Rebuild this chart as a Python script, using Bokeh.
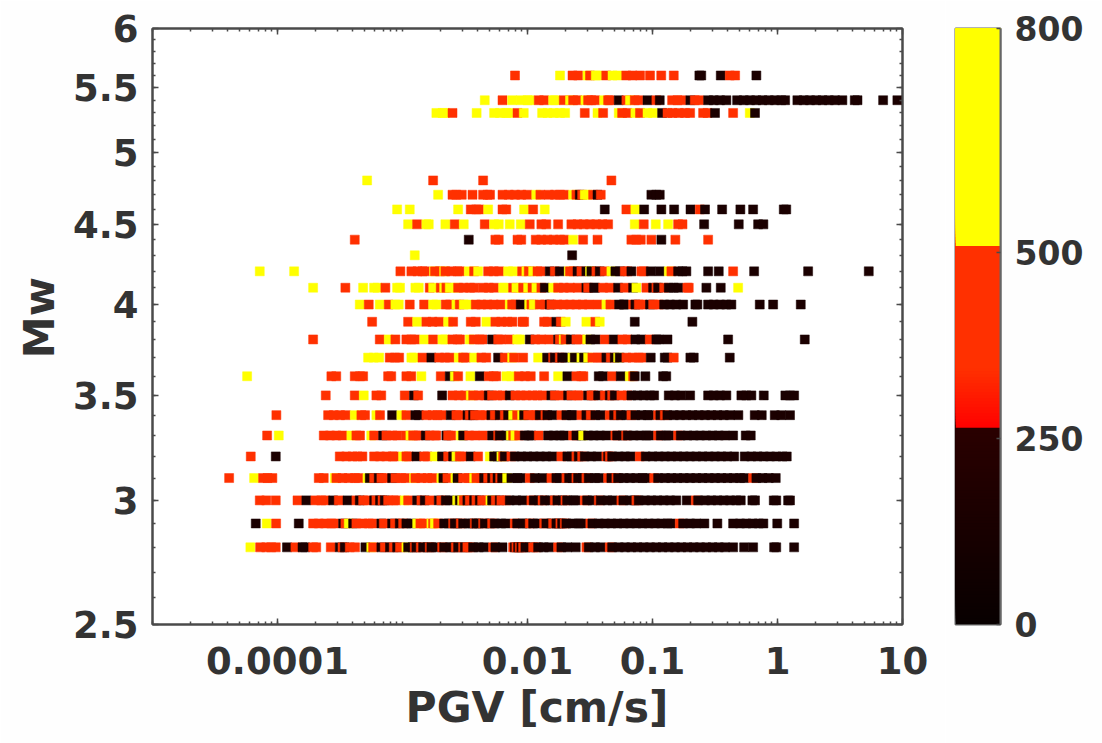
from bokeh.embed import file_html
from bokeh.resources import INLINE
from bokeh.plotting import figure
from bokeh.layouts import row
from bokeh.models import (ColumnDataSource, FixedTicker, LogAxis, LinearColorMapper,
                          CustomJSTickFormatter, Range1d, Title)
from bokeh.transform import transform

# Vs30 class of the points that follow in each row list
K, R, Y = 150, 400, 650

# One list per magnitude row: a class marker, then log10(PGV [cm/s]) of the points
Mw_2_8 = [Y,-4.217,R,-4.139,-4.09,-4.05,-4.014,K,-3.924,R,-3.857,K,-3.80,-3.78,R,-3.715,-3.69,R,-3.574,K,-3.502,R,-3.48,K,-3.462,R,-3.422,-3.38,K,-3.297,Y,-3.25,R,-3.235,K,-3.169,R,-3.142,K,-3.10,R,-3.07,K,-3.043,R,-3.02,Y,-2.969,K,-2.955,-2.92,R,-2.902,K,-2.889,R,-2.854,K,-2.835,-2.80,R,-2.782,K,-2.769,-2.73,R,-2.683,K,-2.667,-2.62,-2.59,R,-2.574,K,-2.555,R,-2.515,K,-2.502,R,-2.481,-2.46,K,-2.435,-2.39,-2.347,R,-2.275,K,-2.257,-2.2,R,-2.115,K,-2.102,R,-2.089,K,-2.075,R,-2.062,K,-2.049,R,-2.035,K,-2.017,-1.98,R,-1.955,-1.93,K,-1.915,-1.87,-1.827,R,-1.755,K,-1.729,-1.68,-1.614,R,-1.529,K,-1.51,-1.46,-1.414,R,-1.342,K,-1.323,-1.27,-1.22,-1.17,-1.12,-1.07,-1.02,-.97,-.92,-.87,-.82,-.77,-.72,-.67,-.62,-.57,-.52,-.47,-.42,-.355,K,-.267,-.195,K,-.027,-.01,K,.133]
Mw_2_9 = [K,-4.174,Y,-4.086,R,-4.011,K,-3.83,R,-3.715,-3.67,-3.62,-3.57,-3.547,K,-3.475,R,-3.457,Y,-3.43,K,-3.395,R,-3.369,-3.32,-3.27,-3.241,K,-3.169,R,-3.15,K,-3.083,R,-3.06,K,-3.022,R,-2.995,K,-2.969,-2.93,Y,-2.883,R,-2.857,-2.83,Y,-2.769,R,-2.755,Y,-2.742,R,-2.715,K,-2.667,-2.63,R,-2.595,K,-2.582,-2.56,R,-2.534,K,-2.515,-2.47,-2.44,R,-2.422,K,-2.409,-2.39,R,-2.355,K,-2.342,-2.30,R,-2.283,K,-2.262,-2.21,-2.174,R,-2.102,K,-2.083,-2.04,-2.01,R,-1.982,K,-1.955,-1.92,R,-1.867,K,-1.849,-1.81,R,-1.795,K,-1.769,-1.75,R,-1.737,K,-1.723,R,-1.702,K,-1.689,-1.64,-1.59,-1.569,R,-1.497,K,-1.481,-1.43,-1.38,-1.33,-1.28,-1.23,-1.18,-1.13,-1.08,-1.03,-.98,-.93,-.88,-.854,R,-.782,K,-.755,-.70,-.65,-.585,K,-.481,K,-.355,-.30,-.25,-.20,-.15,-.113,K,-.002,K,.133]
Mw_3_0 = [R,-4.142,-4.09,-4.014,R,-3.84,K,-3.769,R,-3.697,-3.65,-3.62,K,-3.555,R,-3.51,K,-3.44,R,-3.369,K,-3.342,R,-3.315,-3.28,K,-3.227,R,-3.209,K,-3.18,R,-3.16,K,-3.142,R,-3.115,-3.07,-3.05,Y,-2.982,R,-2.955,K,-2.883,R,-2.849,K,-2.822,R,-2.782,K,-2.71,R,-2.69,K,-2.654,-2.62,Y,-2.563,K,-2.542,Y,-2.523,R,-2.51,-2.49,K,-2.481,R,-2.462,K,-2.427,R,-2.409,K,-2.382,R,-2.363,-2.33,Y,-2.297,K,-2.283,R,-2.254,K,-2.222,R,-2.209,-2.17,K,-2.142,-2.09,-2.04,R,-1.969,K,-1.95,-1.91,R,-1.88,K,-1.862,-1.82,R,-1.782,K,-1.761,-1.72,R,-1.697,K,-1.683,-1.63,-1.614,R,-1.542,K,-1.523,-1.48,R,-1.43,K,-1.414,-1.36,-1.32,R,-1.249,K,-1.233,-1.18,-1.14,R,-1.129,K,-1.11,-1.06,-1.01,-.96,-.91,-.86,-.81,-.726,R,-.654,K,-.635,-.58,-.53,-.48,-.43,-.38,-.33,-.294,K,-.201,-.18,K,-.03,-.01,K,.085,.10]
Mw_3_1 = [R,-4.387,Y,-4.187,R,-4.115,-4.08,-4.041,R,-3.67,-3.63,Y,-3.542,R,-3.529,-3.48,-3.43,-3.38,-3.353,Y,-3.28,K,-3.262,R,-3.227,K,-3.19,R,-3.169,-3.14,K,-3.083,R,-3.057,-3.01,-2.979,Y,-2.907,R,-2.897,-2.85,-2.80,-2.761,Y,-2.689,K,-2.673,R,-2.641,Y,-2.577,K,-2.56,R,-2.515,-2.47,-2.44,Y,-2.427,R,-2.409,-2.37,K,-2.347,R,-2.315,K,-2.283,R,-2.262,K,-2.24,R,-2.219,K,-2.203,Y,-2.163,K,-2.129,-2.08,-2.054,R,-1.982,K,-1.942,-1.88,R,-1.809,K,-1.769,-1.74,R,-1.689,K,-1.667,-1.64,R,-1.609,K,-1.595,-1.56,R,-1.529,K,-1.51,-1.46,-1.427,R,-1.355,K,-1.329,R,-1.289,K,-1.275,-1.23,-1.18,-1.13,-1.08,-1.054,R,-.987,K,-.955,-.90,-.85,-.80,-.75,-.70,-.65,-.60,-.55,-.50,-.45,-.40,-.35,-.30,-.267,R,-.195,K,-.169,-.12,-.07,-.014]
Mw_3_2 = [R,-4.214,K,-4.014,R,-3.502,-3.45,-3.40,-3.36,-3.321,R,-3.227,-3.18,-3.13,-3.08,-3.067,Y,-2.995,R,-2.969,-2.95,K,-2.889,R,-2.827,-2.80,Y,-2.742,K,-2.684,R,-2.635,K,-2.595,Y,-2.569,R,-2.542,-2.52,K,-2.454,R,-2.395,Y,-2.302,K,-2.267,-2.24,Y,-2.209,R,-2.195,K,-2.182,R,-2.129,K,-2.102,-2.05,-2.0,-1.95,-1.90,-1.85,-1.801,R,-1.729,K,-1.681,-1.65,R,-1.609,K,-1.59,R,-1.563,K,-1.542,-1.49,-1.441,R,-1.369,K,-1.355,R,-1.342,K,-1.323,-1.27,-1.22,-1.174,R,-1.102,K,-1.054,-1.0,-.95,-.90,-.85,-.80,-.75,-.70,-.65,-.60,-.55,-.50,-.45,-.40,-.347,K,-.262,-.21,-.16,-.11,-.06,-.01,.04,.074]
Mw_3_3 = [R,-4.083,Y,-3.99,R,-3.63,-3.58,-3.53,-3.481,Y,-3.409,R,-3.369,-3.34,Y,-3.25,R,-3.227,K,-3.155,R,-3.129,-3.08,-3.041,R,-2.969,Y,-2.937,R,-2.915,R,-2.894,-2.87,K,-2.814,R,-2.782,-2.74,-2.73,K,-2.649,R,-2.635,-2.61,Y,-2.534,K,-2.515,R,-2.467,-2.42,-2.355,K,-2.283,R,-2.235,K,-2.222,-2.17,Y,-2.134,R,-2.115,Y,-2.097,R,-2.067,K,-2.022,K,-1.99,-1.97,R,-1.91,K,-1.835,-1.79,-1.74,-1.707,R,-1.635,K,-1.609,-1.57,Y,-1.555,K,-1.515,-1.47,-1.42,-1.369,R,-1.297,K,-1.283,-1.24,R,-1.211,K,-1.198,-1.15,-1.10,-1.05,-1.027,R,-.955,K,-.934,-.89,-.867,R,-.795,K,-.774,-.72,-.67,-.62,-.57,-.52,-.47,-.42,-.355,K,-.254,-.214]
Mw_3_4 = [R,-4.009,R,-3.595,-3.55,-3.50,-3.454,Y,-3.382,R,-3.329,-3.30,Y,-3.209,R,-3.18,K,-3.083,Y,-3.009,R,-2.969,K,-2.897,-2.87,R,-2.809,-2.76,-2.72,-2.686,K,-2.614,R,-2.569,-2.55,K,-2.48,R,-2.462,K,-2.435,R,-2.42,-2.38,-2.34,K,-2.289,R,-2.262,K,-2.222,R,-2.182,K,-2.155,Y,-2.115,R,-2.083,Y,-2.043,K,-2.027,R,-1.995,-1.95,-1.93,K,-1.902,R,-1.857,K,-1.841,-1.801,R,-1.729,K,-1.689,-1.65,-1.641,R,-1.569,K,-1.529,R,-1.494,K,-1.457,-1.414,R,-1.342,K,-1.307,R,-1.275,K,-1.254,-1.21,R,-1.169,K,-1.137,-1.09,-1.04,-1.027,R,-.955,K,-.937,R,-.902,K,-.881,-.83,-.78,-.73,-.68,-.63,-.58,-.53,-.48,-.43,-.38,-.313,K,-.182,-.126,K,-.022,.03,.10]
Mw_3_5 = [R,-3.614,R,-3.382,Y,-3.31,R,-3.209,-3.17,R,-2.982,K,-2.908,R,-2.875,K,-2.683,R,-2.60,-2.55,-2.50,Y,-2.454,R,-2.435,-2.39,-2.34,K,-2.31,R,-2.284,-2.24,-2.20,K,-2.142,R,-2.097,R,-2.054,-2.01,-1.96,-1.92,-1.88,K,-1.809,R,-1.782,-1.74,K,-1.675,R,-1.649,-1.60,-1.587,K,-1.515,R,-1.489,-1.47,K,-1.435,R,-1.382,K,-1.342,R,-1.323,K,-1.302,R,-1.249,-1.20,K,-1.169,-1.12,-1.07,-1.02,-.987,K,-.87,-.82,-.77,-.699,K,-.555,-.51,-.46,-.409,K,-.289,-.25,-.209,K,-.11,K,.063,.10,.133]
Mw_3_6 = [Y,-4.243,R,-3.569,-3.53,R,-3.382,-3.34,-3.315,R,-3.115,-3.09,R,-2.969,-2.93,Y,-2.849,R,-2.694,K,-2.622,Y,-2.582,R,-2.555,Y,-2.457,K,-2.382,R,-2.31,-2.27,-2.25,Y,-2.169,-2.13,R,-2.07,-2.02,-1.974,R,-1.867,Y,-1.755,K,-1.681,R,-1.609,-1.57,-1.553,K,-1.43,-1.395,R,-1.323,K,-1.254,Y,-1.182,R,-1.155,K,-1.142,K,-1.057,K,-.915,-.89]
Mw_3_7 = [Y,-3.275,-3.23,-3.187,R,-3.102,-3.06,-3.027,Y,-2.929,-2.91,R,-2.84,K,-2.769,R,-2.707,-2.66,-2.622,Y,-2.55,R,-2.515,-2.494,Y,-2.427,R,-2.369,-2.33,K,-2.235,R,-2.182,Y,-2.123,R,-2.107,R,-2.035,Y,-1.915,K,-1.843,R,-1.795,K,-1.782,R,-1.742,K,-1.723,-1.70,Y,-1.641,K,-1.622,Y,-1.569,K,-1.547,Y,-1.515,R,-1.481,R,-1.44,-1.41,K,-1.369,R,-1.334,K,-1.302,Y,-1.275,K,-1.262,R,-1.209,-1.16,-1.11,-1.086,K,-1.014,K,-.902,-.88,R,-.83,K,-.697,-.67,K,-.382]
Mw_3_8 = [R,-3.715,R,-3.182,Y,-3.11,R,-3.057,R,-2.969,-2.93,-2.899,Y,-2.827,R,-2.755,Y,-2.68,-2.66,R,-2.601,-2.56,-2.54,Y,-2.462,R,-2.43,R,-2.382,-2.36,K,-2.283,R,-2.235,-2.21,R,-2.142,Y,-2.083,-2.06,K,-1.982,R,-1.937,-1.89,-1.827,K,-1.755,R,-1.742,Y,-1.71,R,-1.697,K,-1.654,R,-1.609,-1.58,Y,-1.523,K,-1.497,-1.454,R,-1.382,K,-1.31,R,-1.241,-1.20,K,-1.137,-1.09,R,-1.022,K,-.969,-.95,K,-.88,K,-.395,K,.218]
Mw_3_9 = [R,-3.243,R,-2.955,Y,-2.883,R,-2.809,-2.76,-2.707,Y,-2.635,R,-2.595,R,-2.454,-2.414,Y,-2.329,R,-2.257,-2.21,-2.16,-2.121,R,-2.04,-2.027,R,-1.867,-1.84,K,-1.769,R,-1.734,Y,-1.694,Y,-1.529,R,-1.457,Y,-1.422,K,-1.142,K,-.681]
Mw_4_0 = [Y,-3.342,R,-3.27,Y,-3.182,R,-3.11,Y,-3.057,-3.03,R,-2.942,R,-2.827,Y,-2.755,-2.73,R,-2.654,-2.62,Y,-2.569,R,-2.542,Y,-2.51,-2.47,R,-2.414,-2.37,-2.32,-2.27,-2.214,Y,-2.142,R,-2.123,R,-2.097,K,-2.054,Y,-1.987,R,-1.969,Y,-1.95,R,-1.902,-1.86,K,-1.822,R,-1.809,-1.76,-1.71,-1.66,-1.61,-1.56,-1.51,-1.44,Y,-1.369,R,-1.337,K,-1.267,-1.23,-1.227,R,-1.155,K,-1.137,R,-1.11,-1.08,K,-1.02,R,-.995,-.95,K,-.907,-.86,-.81,-.755,K,-.657,-.641,K,-.555,-.51,-.46,-.41,-.369,K,-.142,K,-.035,K,.186]
Mw_4_1 = [Y,-3.715,R,-3.457,Y,-3.315,Y,-3.227,-3.20,R,-3.137,Y,-3.043,-3.02,Y,-2.897,-2.87,R,-2.782,Y,-2.755,R,-2.694,Y,-2.667,R,-2.649,Y,-2.622,-2.58,R,-2.555,-2.51,-2.46,-2.427,R,-2.355,-2.31,-2.267,Y,-2.195,-2.187,R,-2.115,Y,-2.089,Y,-2.054,R,-2.035,Y,-1.995,R,-1.96,Y,-1.929,R,-1.889,K,-1.862,Y,-1.795,R,-1.755,-1.71,-1.66,-1.60,K,-1.529,R,-1.515,K,-1.467,-1.46,R,-1.395,R,-1.342,K,-1.275,R,-1.222,K,-1.155,Y,-1.129,R,-1.049,K,-.995,R,-.969,K,-.955,R,-.907,K,-.87,-.83,-.793,R,-.721,-.71,K,-.569,K,-.454,Y,-.315]
Mw_4_2 = [Y,-4.142,Y,-3.867,R,-3.017,R,-2.929,-2.88,-2.84,-2.82,Y,-2.747,R,-2.74,-2.70,Y,-2.667,R,-2.657,-2.61,-2.56,-2.542,Y,-2.47,R,-2.427,Y,-2.395,R,-2.315,-2.27,-2.227,Y,-2.155,-2.115,R,-2.043,Y,-2.009,R,-1.99,Y,-1.955,R,-1.92,-1.894,K,-1.822,R,-1.782,K,-1.742,Y,-1.67,R,-1.66,-1.63,K,-1.60,R,-1.569,K,-1.529,Y,-1.50,K,-1.489,R,-1.449,K,-1.422,R,-1.382,Y,-1.329,K,-1.297,-1.26,R,-1.222,-1.20,K,-1.169,R,-1.089,-1.07,K,-1.014,K,-.942,Y,-.87,R,-.849,K,-.795,-.76,-.729,K,-.555,K,-.47,R,-.355,K,-.187,K,.245,K,.73]
Mw_4_3 = [Y,-2.902,K,-1.643]
Mw_4_4 = [R,-3.382,K,-2.47,R,-2.257,-2.23,R,-2.08,-2.05,R,-1.934,-1.89,-1.84,-1.79,-1.74,-1.707,Y,-1.635,R,-1.555,R,-1.44,R,-1.169,-1.13,-1.094,R,-1.009,K,-.929,R,-.817,R,-.555]
Mw_4_5 = [Y,-2.955,R,-2.883,Y,-2.809,-2.79,Y,-2.657,R,-2.582,Y,-2.51,R,-2.342,Y,-2.267,-2.23,Y,-2.142,Y,-2.054,R,-1.982,R,-1.889,-1.85,R,-1.755,R,-1.649,-1.60,-1.55,-1.50,-1.45,-1.40,-1.355,Y,-1.142,R,-1.07,Y,-.974,Y,-.875,R,-.795,-.76,K,-.587,K,-.31,K,-.155,-.113]
Mw_4_6 = [Y,-3.043,Y,-2.942,Y,-2.555,R,-2.454,-2.41,-2.387,Y,-2.315,R,-2.20,-2.17,Y,-2.027,R,-1.955,Y,-1.862,K,-1.382,R,-1.209,Y,-1.137,K,-1.067,K,-.929,K,-.827,K,-.696,R,-.622,K,-.58,K,-.443,K,-.297,K,-.195,K,.05,.07]
Mw_4_7 = [Y,-2.715,R,-2.60,-2.57,-2.526,R,-2.44,R,-2.355,-2.32,-2.30,R,-2.20,-2.15,-2.10,-2.05,-2.001,Y,-1.93,R,-1.897,R,-1.83,-1.78,-1.74,-1.707,Y,-1.635,R,-1.609,K,-1.582,R,-1.563,Y,-1.542,-1.52,R,-1.475,K,-1.44,R,-1.414,K,-1.009,-.97,-.942]
Mw_4_8 = [Y,-3.283,R,-2.755,R,-2.355,R,-1.329]
Mw_5_3 = [Y,-2.729,-2.68,-2.66,R,-2.60,Y,-2.407,Y,-2.267,-2.22,-2.17,-2.153,R,-2.08,Y,-2.03,Y,-1.883,-1.84,-1.79,-1.74,-1.699,R,-1.542,Y,-1.44,R,-1.395,Y,-1.27,R,-1.243,-1.20,Y,-1.137,R,-1.10,Y,-1.04,-.995,K,-.923,R,-.88,-.84,-.79,-.74,-.699,R,-.595,-.56,K,-.50,R,-.355,Y,-.222,K,-.18]
Mw_5_4 = [Y,-2.342,R,-2.20,Y,-2.123,Y,-2.054,-2.0,-1.982,R,-1.91,-1.867,Y,-1.795,-1.78,R,-1.71,Y,-1.66,R,-1.635,-1.60,Y,-1.537,R,-1.515,-1.49,-1.459,Y,-1.387,R,-1.355,-1.342,K,-1.27,R,-1.209,Y,-1.18,R,-1.142,-1.113,K,-1.04,R,-.969,K,-.942,R,-.843,-.80,-.769,K,-.697,R,-.662,-.627,K,-.555,-.51,-.46,-.409,K,-.323,-.27,-.22,-.17,-.12,-.07,-.02,.03,.061,K,.159,.21,.26,.31,.36,.41,.46,.519,K,.618,.64,K,.845,K,.959]
Mw_5_6 = [R,-2.10,Y,-1.74,R,-1.64,-1.595,Y,-1.52,R,-1.50,Y,-1.454,-1.44,R,-1.37,Y,-1.32,-1.28,R,-1.21,-1.16,-1.10,R,-1.02,R,-.93,R,-.83,K,-.625,-.61,K,-.454,R,-.382,-.339,K,-.169]

mw_rows = {2.8: Mw_2_8, 2.9: Mw_2_9, 3.0: Mw_3_0, 3.1: Mw_3_1, 3.2: Mw_3_2, 3.3: Mw_3_3,
           3.4: Mw_3_4, 3.5: Mw_3_5, 3.6: Mw_3_6, 3.7: Mw_3_7, 3.8: Mw_3_8, 3.9: Mw_3_9,
           4.0: Mw_4_0, 4.1: Mw_4_1, 4.2: Mw_4_2, 4.3: Mw_4_3, 4.4: Mw_4_4, 4.5: Mw_4_5,
           4.6: Mw_4_6, 4.7: Mw_4_7, 4.8: Mw_4_8, 5.3: Mw_5_3, 5.4: Mw_5_4, 5.6: Mw_5_6}

x_major = [1e-4, 0.01, 0.1, 1, 10]
x_minor = [m * 10.0 ** e for e in range(-5, 1) for m in range(1, 10)]
y_major = [2.5, 3, 3.5, 4, 4.5, 5, 5.5, 6]
y_minor = [k / 10 for k in range(26, 60)]
cbar_ticks = [0, 250, 500, 800]

INK = "#333333"
FRAME = "#4a4a4a"
FONT = "DejaVu Sans"
BG = "#fefefe"


def hex2(v):
    return "%02x" % int(round(v))


# hot-like stepped colour scale
palette = []
for v in range(0, 800, 4):
    if v < 261:
        palette.append("#" + hex2(8 + 34 * v / 261) + "0000")
    elif v < 508:
        palette.append("#ff" + hex2(min(48, (v - 261) * 0.6)) + "00")
    else:
        palette.append("#ffff00")
mapper = LinearColorMapper(palette=palette, low=0, high=800)

pgv, mw, vs = [], [], []
for m, items in mw_rows.items():
    cls = None
    for it in items:
        if it >= 100:
            cls = it
        else:
            pgv.append(10.0 ** it)
            mw.append(m)
            vs.append(cls)
src = ColumnDataSource(dict(pgv=pgv, mw=mw, vs=vs))

p = figure(width=945, height=743, frame_width=750, frame_height=596,
           x_axis_type="log", y_axis_type="log",
           x_range=Range1d(1e-5, 10), y_range=Range1d(2.5, 6),
           output_backend="svg", toolbar_location=None,
           min_border_left=152, min_border_right=43, min_border_top=28, min_border_bottom=119,
           background_fill_color="#ffffff", border_fill_color=BG)
p.grid.visible = False
p.outline_line_color = FRAME
p.outline_line_width = 2
p.scatter("pgv", "mw", source=src, marker="square", size=9, line_width=0.5,
          line_color=transform("vs", mapper), fill_color=transform("vs", mapper))

xt = FixedTicker(ticks=x_major, minor_ticks=x_minor)
yt = FixedTicker(ticks=y_major, minor_ticks=y_minor)
fmt = CustomJSTickFormatter(code="return tick.toString()")


def style(ax, ticker, labels=True, size="37px"):
    ax.ticker = ticker
    ax.axis_line_color = FRAME
    ax.axis_line_width = 2
    ax.major_tick_line_color = FRAME
    ax.major_tick_line_width = 1.5
    ax.minor_tick_line_color = FRAME
    ax.minor_tick_line_width = 1.5
    ax.major_tick_in = 6
    ax.major_tick_out = 0
    ax.minor_tick_in = 3
    ax.minor_tick_out = 0
    if labels:
        ax.formatter = fmt
        ax.major_label_text_font = FONT
        ax.major_label_text_font_style = "bold"
        ax.major_label_text_font_size = size
        ax.major_label_text_color = INK
    else:
        ax.major_label_text_font_size = "0px"
        ax.major_label_text_color = None


style(p.xaxis[0], xt)
style(p.yaxis[0], yt)
p.xaxis[0].major_label_standoff = 22
p.yaxis[0].major_label_standoff = 14
top = LogAxis()
style(top, xt, labels=False)
p.add_layout(top, "above")
right = LogAxis()
style(right, yt, labels=False)
p.add_layout(right, "right")

# axis titles: placed as side titles so they can sit off-centre as in the reference
title_style = dict(text_font=FONT, text_font_style="bold", text_color=INK, text_font_size="42.5px",
                   align="left")
p.add_layout(Title(text="PGV [cm/s]", offset=253, standoff=8, **title_style), "below")
p.add_layout(Title(text="Mw", offset=266, standoff=12, **title_style), "left")

# colour bar panel
bar_lo = list(range(0, 800, 4))
bar_top = [800] * len(bar_lo)
bar_mid = [b + 2 for b in bar_lo]
bar_src = ColumnDataSource(dict(lo=bar_lo, hi=bar_top, mid=bar_mid))
c = figure(width=157, height=743, frame_width=45, frame_height=596,
           x_range=Range1d(0, 1), y_range=Range1d(0, 800),
           output_backend="svg", toolbar_location=None, y_axis_location="right",
           min_border_left=10, min_border_right=102, min_border_top=28, min_border_bottom=119,
           background_fill_color="#ffffff", border_fill_color=BG)
c.grid.visible = False
c.xaxis.visible = False
c.outline_line_color = "#666666"
c.outline_line_width = 2
c.quad(left=0, right=1, bottom="lo", top="hi", source=bar_src,
       fill_color=transform("mid", mapper), line_color=None)
cax = c.yaxis[0]
style(cax, FixedTicker(ticks=cbar_ticks, minor_ticks=[]), size="33px")
cax.major_tick_in = 4
cax.major_label_standoff = 14
cax.axis_line_color = "#666666"

open("out.html", "w").write(file_html(row(p, c, spacing=0), INLINE))
